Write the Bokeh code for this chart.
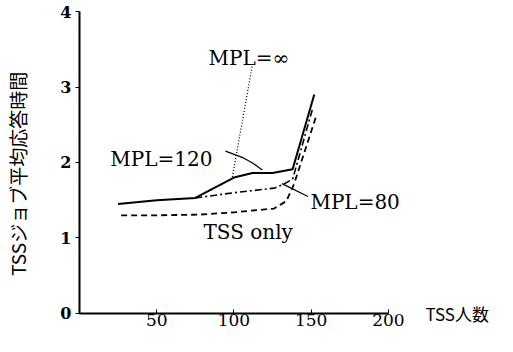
from math import pi
from bokeh.plotting import figure
from bokeh.models import Range1d, Label, FixedTicker
from bokeh.embed import file_html
from bokeh.resources import INLINE

# ---- data ----
x_ticks = [50, 100, 150, 200]
y_ticks = [0, 1, 2, 3, 4]

mpl120_x = [25, 50, 75, 100, 112, 125, 138, 152]
mpl120_y = [1.45, 1.50, 1.53, 1.80, 1.86, 1.86, 1.91, 2.90]

mpl80_x = [75, 100, 126, 132, 138, 151]
mpl80_y = [1.53, 1.60, 1.66, 1.71, 1.78, 2.72]

tss_x = [27, 50, 78, 100, 126, 134, 139, 153]
tss_y = [1.30, 1.30, 1.31, 1.34, 1.39, 1.49, 1.72, 2.60]

mplinf_x = [99, 112]
mplinf_y = [1.81, 3.30]

# leader lines (annotation geometry)
lead120_x = [94.5, 106.2, 112.3, 118.4]
lead120_y = [2.15, 2.06, 1.99, 1.90]
lead80_x = [131.1, 147.9]
lead80_y = [1.72, 1.55]

p = figure(width=497, height=336, output_backend="svg", toolbar_location=None,
           x_range=Range1d(-51.1, 270.6), y_range=Range1d(-0.305, 4.146),
           min_border_left=0, min_border_right=0, min_border_top=0, min_border_bottom=0)
p.outline_line_color = None
p.grid.visible = False
p.background_fill_color = "white"

# axes drawn at the data origin inside the frame
xa = p.xaxis[0]
xa.fixed_location = 0
xa.ticker = FixedTicker(ticks=x_ticks)
xa.bounds = (0, 200)
xa.axis_line_width = 2
xa.major_tick_in = 4
xa.major_tick_out = 0
xa.minor_tick_line_color = None
xa.major_label_standoff = 1
xa.major_label_text_font = "DejaVu Serif"
xa.major_label_text_font_size = "17px"
xa.major_label_text_color = "black"

ya = p.yaxis[0]
ya.fixed_location = 0
ya.ticker = FixedTicker(ticks=y_ticks)
ya.bounds = (0, 4)
ya.axis_line_width = 2
ya.major_tick_in = 0
ya.major_tick_out = 4
ya.minor_tick_line_color = None
ya.major_label_standoff = 4
ya.major_label_text_font = "DejaVu Serif"
ya.major_label_text_font_style = "bold"
ya.major_label_text_font_size = "16px"
ya.major_label_text_color = "black"

# series
p.line(mpl120_x, mpl120_y, line_color="black", line_width=2)
p.line(mpl80_x, mpl80_y, line_color="black", line_width=1.6, line_dash="7 3 2 3")
p.line(tss_x, tss_y, line_color="black", line_width=1.8, line_dash="6 4")
p.line(mplinf_x, mplinf_y, line_color="black", line_width=1.3, line_dash="1 2")

p.line(lead120_x, lead120_y, line_color="black", line_width=1.3)
p.line(lead80_x, lead80_y, line_color="black", line_width=1.3)

font = "DejaVu Serif"
for txt, x, y in [("MPL=\u221e", 83.5, 3.39), ("MPL=120", 20, 2.04),
                  ("MPL=80", 149.5, 1.48), ("TSS only", 80.3, 1.08)]:
    p.add_layout(Label(x=x, y=y, text=txt, text_font=font, text_font_size="20px",
                       text_baseline="alphabetic", text_align="left", text_color="black"))

# axis titles
p.add_layout(Label(x=224, y=0, text="TSS人数", text_font="Noto Sans CJK JP",
                   text_font_size="17px", text_baseline="middle", text_align="left",
                   text_color="black"))
p.add_layout(Label(x=-39.8, y=1.85, text="TSSジョブ平均応答時間", angle=pi / 2,
                   text_font="Noto Sans CJK JP", text_font_size="19px",
                   text_baseline="middle", text_align="center", text_color="black"))

open("out.html", "w").write(file_html(p, INLINE))
